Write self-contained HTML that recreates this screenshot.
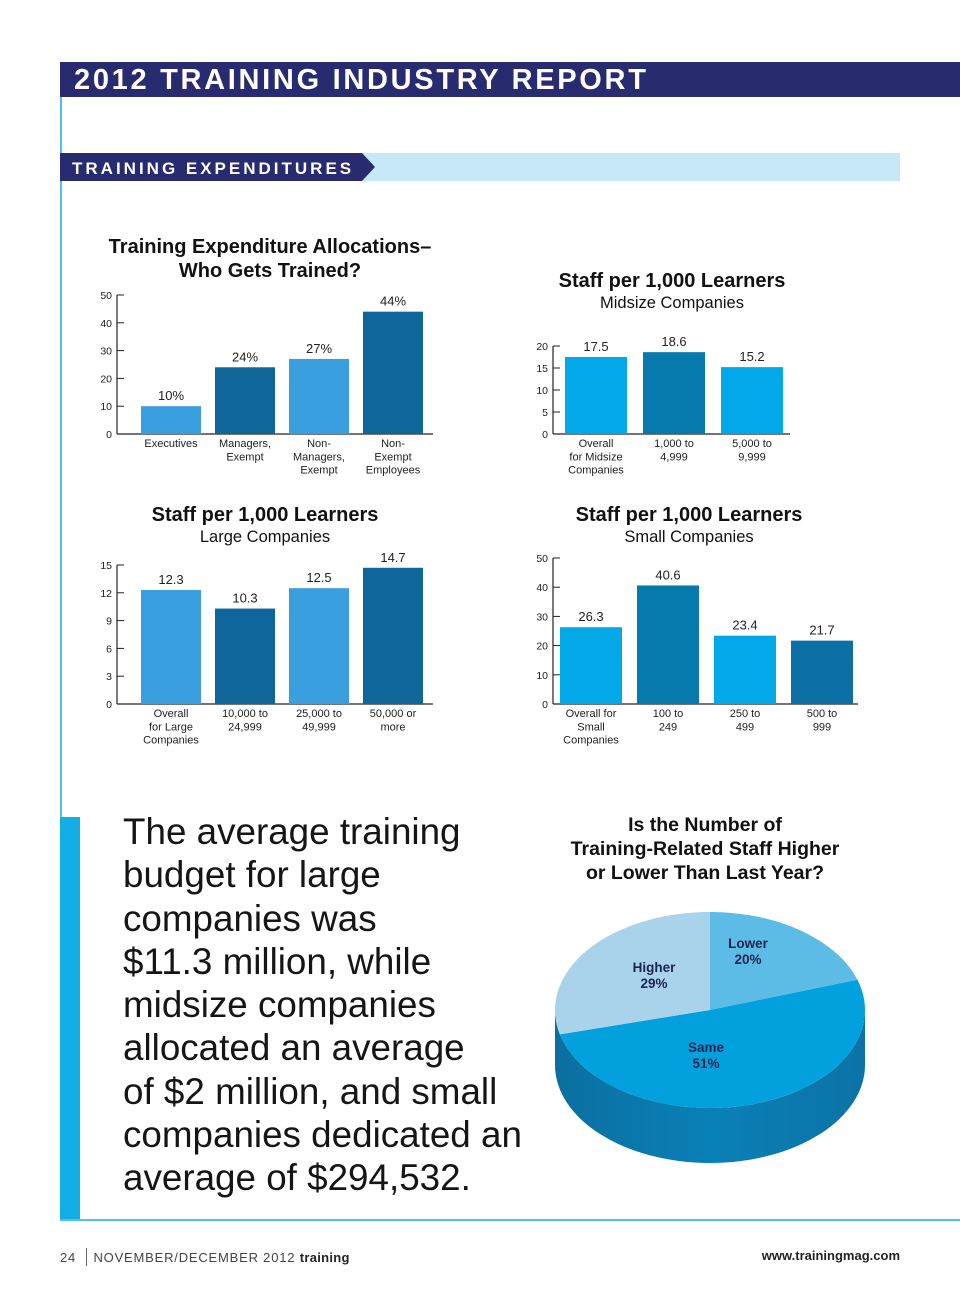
<!DOCTYPE html>
<html><head><meta charset="utf-8"><style>
body{margin:0;background:#fff;font-family:"Liberation Sans",sans-serif;}
#page{position:relative;width:960px;height:1291px;overflow:hidden;background:#fff;}
.abs{position:absolute;}
svg text{font-family:"Liberation Sans",sans-serif;}
</style></head><body>
<div id="page">
<div class="abs" style="left:60px;top:62px;width:900px;height:35px;background:#282b6f;"></div>
<div class="abs" style="left:74px;top:62px;height:35px;line-height:36px;color:#fff;font-weight:bold;font-size:29px;letter-spacing:2.7px;">2012 TRAINING INDUSTRY REPORT</div>
<div class="abs" style="left:60px;top:97px;width:2px;height:1123px;background:#4fc3ef;"></div>
<div class="abs" style="left:60px;top:817px;width:20px;height:404px;background:#13aee8;"></div>
<div class="abs" style="left:60px;top:1219px;width:900px;height:2px;background:#4fc3ef;"></div>
<svg class="abs" style="left:0;top:0" width="960" height="200">
<rect x="362" y="153" width="538" height="28" fill="#c6e8f7"/>
<polygon points="60,153 362,153 375,167 362,181 60,181" fill="#282b6f"/>
<text x="72" y="174" fill="#fff" font-weight="bold" font-size="17" letter-spacing="3.0">TRAINING EXPENDITURES</text>
</svg>
<svg id="charts" class="abs" style="left:0;top:0" width="960" height="800"></svg>
<svg id="pie" class="abs" style="left:0;top:0" width="960" height="1291"></svg>
<div class="abs" style="left:123px;top:810px;white-space:nowrap;font-size:36.8px;line-height:43.3px;color:#151515;">The average training<br>budget for large<br>companies was<br>$11.3 million, while<br>midsize companies<br>allocated an average<br>of $2 million, and small<br>companies dedicated an<br>average of $294,532.</div>
<div class="abs" style="left:60px;top:1248px;font-size:13px;color:#444;letter-spacing:0.8px;">24 <span style="display:inline-block;width:1px;height:18px;background:#666;vertical-align:-4px;margin:0 6px;"></span>NOVEMBER/DECEMBER 2012 <b style="color:#222;letter-spacing:0.3px;">training</b></div>
<div class="abs" style="right:60px;top:1248px;font-size:13px;font-weight:bold;color:#222;">www.trainingmag.com</div>
</div>
<script>
const NS="http://www.w3.org/2000/svg";
function mk(p,t,a,txt){const e=document.createElementNS(NS,t);for(const k in a)e.setAttribute(k,a[k]);if(txt!==undefined)e.textContent=txt;p.appendChild(e);return e;}

const c1Cats=[["Executives"],["Managers,","Exempt"],["Non-","Managers,","Exempt"],["Non-","Exempt","Employees"]];
const c1Vals=[10,24,27,44];
const c1Labels=["10%","24%","27%","44%"];
const c1Ticks=[0,10,20,30,40,50];
const c2Cats=[["Overall","for Midsize","Companies"],["1,000 to","4,999"],["5,000 to","9,999"]];
const c2Vals=[17.5,18.6,15.2];
const c2Ticks=[0,5,10,15,20];
const c3Cats=[["Overall","for Large","Companies"],["10,000 to","24,999"],["25,000 to","49,999"],["50,000 or","more"]];
const c3Vals=[12.3,10.3,12.5,14.7];
const c3Ticks=[0,3,6,9,12,15];
const c4Cats=[["Overall for","Small","Companies"],["100 to","249"],["250 to","499"],["500 to","999"]];
const c4Vals=[26.3,40.6,23.4,21.7];
const c4Ticks=[0,10,20,30,40,50];
const pieCats=["Lower","Same","Higher"];
const pieVals=[20,51,29];

const svg=document.getElementById('charts');
function chart(o){
  const g=mk(svg,'g',{});
  
  
  const maxT=o.ticks[o.ticks.length-1];
  const y=v=>o.y0-(o.y0-o.yTop)*v/maxT;
  o.titles.forEach((t,i)=>{const e=mk(g,'text',{x:o.tx,y:t[1],'text-anchor':'middle','font-size':t[2]?20:16.5,'font-weight':t[2]?'bold':'normal',fill:'#111'},t[0]);
    
    });
  mk(g,'line',{x1:o.ax,y1:o.yTop,x2:o.ax,y2:o.y0,stroke:'#222','stroke-width':1.2});
  mk(g,'line',{x1:o.ax,y1:o.y0,x2:o.axEnd,y2:o.y0,stroke:'#222','stroke-width':1.2});
  o.ticks.forEach(t=>{mk(g,'line',{x1:o.ax,y1:y(t),x2:o.ax+7,y2:y(t),stroke:'#222','stroke-width':1});
    const e=mk(g,'text',{x:o.ax-5,y:y(t)+4,'text-anchor':'end','font-size':10.5,fill:'#222'},t);
    
    });
  o.vals.forEach((v,i)=>{const x=o.x0+i*o.step;
    const r=mk(g,'rect',{x:x,y:y(v),width:o.bw,height:o.y0-y(v),fill:o.colors[i]});
    
    
    const lbl=o.labels?o.labels[i]:String(v);
    const t=mk(g,'text',{x:x+o.bw/2,y:y(v)-6,'text-anchor':'middle','font-size':13,fill:'#222'},lbl);
    
    
    o.cats[i].forEach((c,j)=>{const e=mk(g,'text',{x:x+o.bw/2,y:o.y0+13+j*13.3,'text-anchor':'middle','font-size':11,fill:'#222'},c);
      
      });
  });
}
const L='#3a9fde',D='#0e669b',C='#03a8e8',DC='#0679ad';
chart({name:'who-gets-trained-chart',titles:[["Training Expenditure Allocations–",253,1],["Who Gets Trained?",277,1]],tx:270,ax:117,axEnd:433,y0:434,yTop:295,ticks:c1Ticks,vals:c1Vals,labels:c1Labels,cats:c1Cats,x0:141,step:74,bw:60,colors:[L,D,L,D]});
chart({name:'midsize-staff-chart',titles:[["Staff per 1,000 Learners",287,1],["Midsize Companies",308,0]],tx:672,ax:553,axEnd:790,y0:434,yTop:346,ticks:c2Ticks,vals:c2Vals,cats:c2Cats,x0:565,step:78,bw:62,colors:[C,DC,C]});
chart({name:'large-staff-chart',titles:[["Staff per 1,000 Learners",521,1],["Large Companies",542,0]],tx:265,ax:117,axEnd:433,y0:704,yTop:565,ticks:c3Ticks,vals:c3Vals,cats:c3Cats,x0:141,step:74,bw:60,colors:[L,D,L,D]});
chart({name:'small-staff-chart',titles:[["Staff per 1,000 Learners",521,1],["Small Companies",542,0]],tx:689,ax:553,axEnd:858,y0:704,yTop:558,ticks:c4Ticks,vals:c4Vals,cats:c4Cats,x0:560,step:77,bw:62,colors:[C,DC,C,'#0c6fa5']});

const pie=document.getElementById('pie');
const cx=710,cy=1010,rx=155,ry=98,dep=55;
const pcol=['#5cbce6','#02a0dc','#a8d3ea'];
const pt=(t)=>[cx+rx*Math.cos(t),cy+ry*Math.sin(t)];
[["Is the Number of",831],["Training-Related Staff Higher",855],["or Lower Than Last Year?",879]].forEach(t=>{
  const e=mk(pie,'text',{x:705,y:t[1],'text-anchor':'middle','font-size':19.5,'font-weight':'bold',fill:'#111'},t[0]);
  
  });
const sg=mk(pie,'defs',{});
const lg=mk(sg,'linearGradient',{id:'sideg',x1:0,x2:1,y1:0,y2:0});
mk(lg,'stop',{offset:0,'stop-color':'#0a6f9f'});mk(lg,'stop',{offset:0.5,'stop-color':'#0a80b8'});mk(lg,'stop',{offset:1,'stop-color':'#0b73a6'});
const side=mk(pie,'path',{d:`M${cx-rx},${cy} A${rx},${ry} 0 0 0 ${cx+rx},${cy} L${cx+rx},${cy+dep} A${rx},${ry} 0 0 1 ${cx-rx},${cy+dep} Z`,fill:'url(#sideg)'});


let a=-Math.PI/2;
const tot=pieVals.reduce((s,v)=>s+v,0);
const lblPos=[[748,948],[706,1052],[654,972]];
pieVals.forEach((v,i)=>{
  const b=a+2*Math.PI*v/tot;
  const p0=pt(a),p1=pt(b);
  const large=(b-a)>Math.PI?1:0;
  const s=mk(pie,'path',{d:`M${cx},${cy} L${p0[0]},${p0[1]} A${rx},${ry} 0 ${large} 1 ${p1[0]},${p1[1]} Z`,fill:pcol[i]});
  
  
  const l=lblPos[i];
  const t1=mk(pie,'text',{x:l[0],y:l[1],'text-anchor':'middle','font-size':13.5,'font-weight':'bold',fill:'#1b2450'},pieCats[i]);
  
  
  const t2=mk(pie,'text',{x:l[0],y:l[1]+16,'text-anchor':'middle','font-size':13.5,'font-weight':'bold',fill:'#1b2450'},v+'%');
  
  
  a=b;
});
</script>
</body></html>
